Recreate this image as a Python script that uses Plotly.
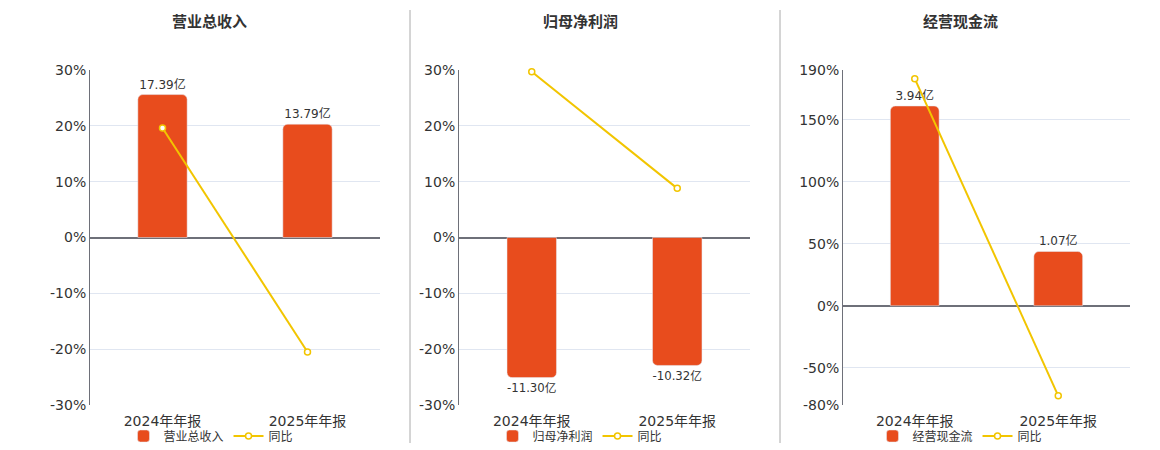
import plotly.graph_objects as go

categories = ["2024年年报", "2025年年报"]

titles = ["营业总收入", "归母净利润", "经营现金流"]

revenue = [17.39, 13.79]        # 亿
revenue_yoy = [19.6, -20.5]     # %
profit = [-11.30, -10.32]
profit_yoy = [29.7, 8.8]
cashflow = [3.94, 1.07]
cashflow_yoy = [183.0, -72.6]

pct_ticks = [
    [-30, -20, -10, 0, 10, 20, 30],
    [-30, -20, -10, 0, 10, 20, 30],
    [-80, -50, 0, 50, 100, 150, 190],
]
pct_labels = [[f"{v}%" for v in t] for t in pct_ticks]

bar_values = [revenue, profit, cashflow]
yoy_values = [revenue_yoy, profit_yoy, cashflow_yoy]

# layout bits, in pixels of the 1160x450 page
W, H = 1160, 450
PAD = 8  # the html body has an 8px margin, so shift everything back by it
x_domains = [(90, 380), (459, 750), (843, 1130)]
title_x = [210, 580, 960]
legend_x = [211, 580, 960]
bar_ranges = [(-20.38, 20.38), (-13.51, 13.51), (-1.958, 4.650)]


def px(v):
    return (v - PAD) / W


def py(v):
    return 1 - (v - PAD) / H


BAR = "#E84C1D"
LINE = "#F2C500"
TXT = "#333333"
AXIS = "#6E7079"
GRID = "#E0E6F1"
FONT = "DejaVu Sans, Noto Sans CJK SC, sans-serif"

fig = go.Figure()
layout = {}

for i in range(3):
    n = i + 1
    xa = "x" if n == 1 else f"x{n}"
    yb = "y" if n == 1 else f"y{2 * n - 1}"
    yp = f"y{2 * n}"
    leg = "legend" if n == 1 else f"legend{n}"

    fig.add_trace(go.Bar(
        x=categories, y=bar_values[i], name=titles[i],
        xaxis=xa, yaxis=yb, legend=leg,
        marker=dict(color=BAR, cornerradius=5),
        width=0.34,
        texttemplate="%{y:.2f}亿", textposition="outside",
        textfont=dict(size=12, color=TXT), cliponaxis=False,
    ))
    fig.add_trace(go.Scatter(
        x=categories, y=yoy_values[i], name="同比",
        xaxis=xa, yaxis=yp, legend=leg,
        mode="lines+markers",
        line=dict(color=LINE, width=2),
        marker=dict(symbol="circle", size=6, color="white",
                    line=dict(color=LINE, width=1.5)),
        cliponaxis=False,
    ))

    d0, d1 = x_domains[i]
    xkey = "xaxis" if n == 1 else f"xaxis{n}"
    layout[xkey] = dict(
        domain=[px(d0), px(d1)], anchor=yb, type="category",
        showgrid=False, showline=False, zeroline=False,
        tickfont=dict(size=14, color=TXT), automargin=False,
        ticklabelstandoff=6,
    )
    ybkey = "yaxis" if n == 1 else f"yaxis{2 * n - 1}"
    layout[ybkey] = dict(
        domain=[py(405), py(70)], anchor=xa,
        range=list(bar_ranges[i]), visible=False, showgrid=False,
        zeroline=False,
    )
    ticks = pct_ticks[i]
    layout[f"yaxis{2 * n}"] = dict(
        overlaying=yb, anchor=xa, side="left",
        range=[ticks[0], ticks[-1]], tickvals=ticks, ticktext=pct_labels[i],
        showgrid=True, gridcolor=GRID, gridwidth=1,
        zeroline=True, zerolinecolor=AXIS, zerolinewidth=2,
        showline=True, linecolor=AXIS, linewidth=1,
        tickfont=dict(size=14, color=TXT), automargin=False,
    )
    layout[leg] = dict(
        orientation="h", x=px(legend_x[i]), xanchor="center",
        y=py(436), yanchor="middle",
        font=dict(size=12, color=TXT), bgcolor="rgba(0,0,0,0)",
        itemwidth=30,
    )

annotations = [
    dict(text=f"<b>{t}</b>", x=px(tx), y=py(22), xref="paper", yref="paper",
         xanchor="center", yanchor="middle",
         showarrow=False, font=dict(size=15, color=TXT))
    for t, tx in zip(titles, title_x)
]

shapes = [
    dict(type="line", xref="paper", yref="paper", x0=px(sx), x1=px(sx),
         y0=py(443), y1=py(10), line=dict(color="#AAAAAA", width=1))
    for sx in (410, 780)
]

fig.update_layout(
    width=W, height=H,
    margin=dict(l=0, r=0, t=0, b=0, autoexpand=False),
    paper_bgcolor="white", plot_bgcolor="white",
    font=dict(family=FONT, color=TXT),
    showlegend=True, barmode="group",
    annotations=annotations, shapes=shapes,
    **layout,
)

fig.write_html("out.html")
